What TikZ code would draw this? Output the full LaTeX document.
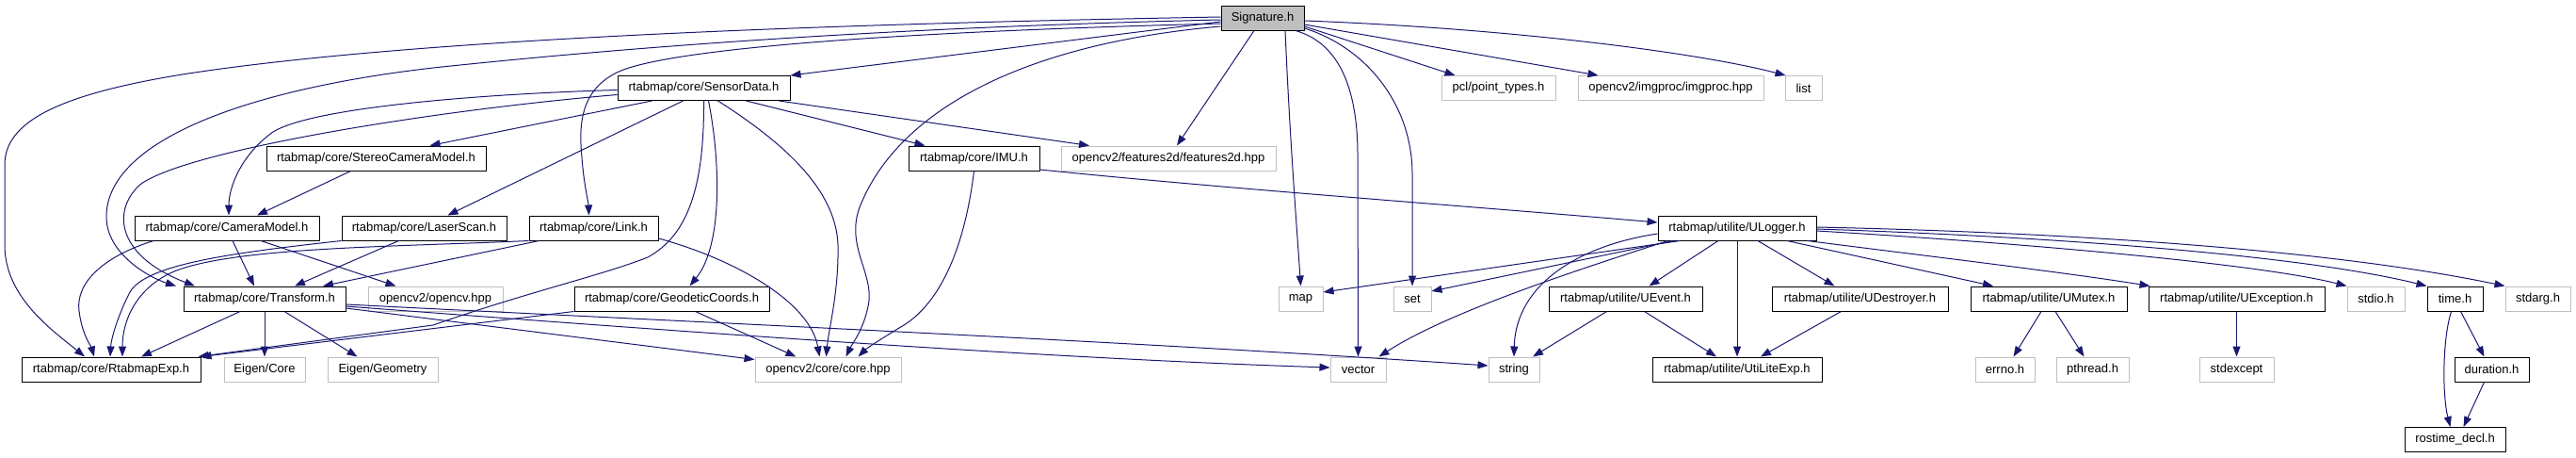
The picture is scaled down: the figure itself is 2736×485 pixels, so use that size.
\documentclass[tikz,border=0pt]{standalone}
\usepackage{fontspec}
\usetikzlibrary{arrows.meta}
\newfontfamily\hfont{Liberation Sans}
\definecolor{edgeblue}{HTML}{191970}
\definecolor{gray75}{HTML}{BFBFBF}
\tikzset{
  hdr/.style={draw=black, line width=1pt, minimum height=26pt, inner sep=0pt,
    font=\hfont\fontsize{13pt}{15pt}\selectfont, text=black},
  ext/.style={hdr, draw=gray75},
  dep/.style={draw=edgeblue, line width=1pt, -{Triangle[length=11pt,width=8pt]}},
}
\begin{document}
\begin{tikzpicture}[x=1pt,y=-1pt]
\useasboundingbox (0,0) rectangle (2736,485);
% row 0
\node[hdr,fill=gray75,minimum width=88pt] (sig) at (1341,19) {Signature.h};
% row 1
\node[hdr,minimum width=183pt] (sd) at (747.5,93.5) {rtabmap/core/SensorData.h};
\node[ext,minimum width=121pt] (pcl) at (1591.5,93.5) {pcl/point\_types.h};
\node[ext,minimum width=197pt] (imgproc) at (1774.5,93.5) {opencv2/imgproc/imgproc.hpp};
\node[ext,minimum width=39pt] (list) at (1915.5,93.5) {list};
% row 2
\node[hdr,minimum width=233pt] (stereo) at (399.5,168) {rtabmap/core/StereoCameraModel.h};
\node[hdr,minimum width=139pt] (imu) at (1034.5,168) {rtabmap/core/IMU.h};
\node[ext,minimum width=228pt] (f2d) at (1241,168) {opencv2/features2d/features2d.hpp};
% row 3
\node[hdr,minimum width=196pt] (cam) at (241,242) {rtabmap/core/CameraModel.h};
\node[hdr,minimum width=175pt] (laser) at (450.5,242) {rtabmap/core/LaserScan.h};
\node[hdr,minimum width=137pt] (link) at (630.5,242) {rtabmap/core/Link.h};
\node[hdr,minimum width=168pt] (ulog) at (1845,242) {rtabmap/utilite/ULogger.h};
% row 4
\node[hdr,minimum width=172pt] (tf) at (281,317) {rtabmap/core/Transform.h};
\node[ext,minimum width=143pt] (ocv) at (462.5,317) {opencv2/opencv.hpp};
\node[hdr,minimum width=207pt] (geo) at (713.5,317) {rtabmap/core/GeodeticCoords.h};
\node[ext,minimum width=47pt] (map) at (1381.5,317) {map};
\node[ext,minimum width=40pt] (set) at (1500,317) {set};
\node[hdr,minimum width=163pt] (uevent) at (1726.5,317) {rtabmap/utilite/UEvent.h};
\node[hdr,minimum width=187pt] (udest) at (1975.5,317) {rtabmap/utilite/UDestroyer.h};
\node[hdr,minimum width=166pt] (umutex) at (2176,317) {rtabmap/utilite/UMutex.h};
\node[hdr,minimum width=187pt] (uexc) at (2375.5,317) {rtabmap/utilite/UException.h};
\node[ext,minimum width=61pt] (stdio) at (2523.5,317) {stdio.h};
\node[hdr,minimum width=59pt] (time) at (2607.5,317) {time.h};
\node[ext,minimum width=69pt] (stdarg) at (2695.5,317) {stdarg.h};
% row 5
\node[hdr,minimum width=190pt] (rexp) at (118,392) {rtabmap/core/RtabmapExp.h};
\node[ext,minimum width=86pt] (ecore) at (281,392) {Eigen/Core};
\node[ext,minimum width=117pt] (egeo) at (406.5,392) {Eigen/Geometry};
\node[ext,minimum width=155pt] (core) at (879.5,392) {opencv2/core/core.hpp};
\node[ext,minimum width=59pt] (vector) at (1442.5,392) {vector};
\node[ext,minimum width=54pt] (string) at (1608,392) {string};
\node[hdr,minimum width=180pt] (utexp) at (1845,392) {rtabmap/utilite/UtiLiteExp.h};
\node[ext,minimum width=63pt] (errno) at (2129.5,392) {errno.h};
\node[ext,minimum width=77pt] (pthread) at (2222.5,392) {pthread.h};
\node[ext,minimum width=79pt] (stdexc) at (2375.5,392) {stdexcept};
\node[hdr,minimum width=79pt] (dur) at (2646.5,392) {duration.h};
% row 6
\node[hdr,minimum width=107pt] (ros) at (2607.5,466.5) {rostime\_decl.h};

% ---- Signature.h edges
\draw[dep] ([yshift=1pt]sig.west) .. controls (900,25) and (450,40) .. (200,78) .. controls (60,100) and (5,130) .. (5,175) -- (5,260) .. controls (5,315) and (55,350) .. ([xshift=-28pt]rexp.north);
\draw[dep] ([yshift=-2pt]sig.west) .. controls (900,30) and (620,55) .. (460,72) .. controls (260,95) and (113,150) .. (113,230) .. controls (113,270) and (160,295) .. ([xshift=-94pt]tf.north);
\draw[dep] ([yshift=-6pt]sig.west) .. controls (900,35) and (700,55) .. (655,77) .. controls (615,97) and (615,135) .. (618,167) .. controls (620,195) and (625,215) .. ([xshift=-5pt]link.north);
\draw[dep] ([yshift=-9pt]sig.west) .. controls (1100,45) and (960,110) .. (915,215) .. controls (895,260) and (930,290) .. (922,325) .. controls (917,350) and (905,365) .. ([xshift=19pt]core.north);
\draw[dep] ([yshift=-4pt]sig.west) -- (sd.north east);
\draw[dep] (sig) -- ([xshift=9pt]f2d.north);
\draw[dep] ([xshift=24pt]sig.south) .. controls (1370,150) and (1378,250) .. (map.north);
\draw[dep] ([xshift=35pt]sig.south) .. controls (1420,45) and (1442,90) .. (1442,165) -- (vector.north);
\draw[dep] ([yshift=-11pt]sig.east) .. controls (1450,50) and (1500,110) .. (1500,185) -- (set.north);
\draw[dep] ([yshift=-9pt]sig.east) -- ([xshift=-46pt]pcl.north);
\draw[dep] ([yshift=-7pt]sig.east) -- ([xshift=-77pt]imgproc.north);
\draw[dep] ([yshift=-3pt]sig.east) .. controls (1600,30) and (1800,55) .. ([xshift=1pt]list.north west);

% ---- SensorData.h edges
\draw[dep] ([xshift=-55pt]sd.south) -- ([xshift=57pt]stereo.north);
\draw[dep] ([xshift=-22pt]sd.south) -- ([xshift=25pt]laser.north);
\draw[dep] ([yshift=-2pt]sd.west) .. controls (500,100) and (330,115) .. (290,140) .. controls (255,165) and (243,200) .. ([xshift=2pt]cam.north);
\draw[dep] ([yshift=-7pt]sd.west) .. controls (450,118) and (200,160) .. (150,195) .. controls (120,220) and (120,270) .. ([xshift=-74pt]tf.north);
\draw[dep] (sd.south) .. controls (748,200) and (730,250) .. (688,273) .. controls (640,292) and (560,310) .. (460,345) -- ([xshift=-3pt]rexp.north east);
\draw[dep] ([xshift=5pt]sd.south) .. controls (765,170) and (768,260) .. ([xshift=19pt]geo.north);
\draw[dep] ([xshift=15pt]sd.south) .. controls (830,150) and (888,200) .. (890,260) .. controls (891,310) and (880,350) .. ([xshift=-2pt]core.north);
\draw[dep] ([xshift=45pt]sd.south) -- ([xshift=-52pt]imu.north);
\draw[dep] ([xshift=80pt]sd.south) -- ([xshift=-84pt]f2d.north);

% ---- StereoCameraModel / CameraModel
\draw[dep] ([xshift=-27pt]stereo.south) -- ([xshift=32pt]cam.north);
\draw[dep] ([xshift=6pt]cam.south) -- ([xshift=-11pt]tf.north);
\draw[dep] ([xshift=36pt]cam.south) -- ([xshift=-42pt]ocv.north);
\draw[dep] ([xshift=-78pt]cam.south) .. controls (110,272) and (80,300) .. (84,330) .. controls (87,355) and (97,368) .. ([xshift=-18pt]rexp.north);

% ---- LaserScan / Link
\draw[dep] ([xshift=-27pt]laser.south) -- ([xshift=32pt]tf.north);
\draw[dep] (laser.south west) .. controls (250,268) and (155,280) .. (138,310) .. controls (125,335) and (118,360) .. ([xshift=-1pt]rexp.north);
\draw[dep] ([xshift=-58pt]link.south) -- ([xshift=62pt]tf.north);
\draw[dep] (link.south west) .. controls (420,262) and (250,262) .. (185,288) .. controls (145,305) and (130,340) .. ([xshift=12pt]rexp.north);
\draw[dep] ([yshift=-11pt]link.east) .. controls (780,275) and (860,320) .. ([xshift=-9pt]core.north);

% ---- Transform
\draw[dep] ([xshift=-26pt]tf.south) -- ([xshift=32pt]rexp.north);
\draw[dep] (tf.south) -- (ecore.north);
\draw[dep] ([xshift=21pt]tf.south) -- ([xshift=-27pt]egeo.north);
\draw[dep] ([yshift=-10pt]tf.east) -- ([yshift=-3pt]core.north west);
\draw[dep] ([yshift=-8pt]tf.east) .. controls (700,350) and (1100,380) .. ([yshift=2pt]vector.west);
\draw[dep] ([yshift=-6pt]tf.east) .. controls (700,340) and (1200,362) .. ([yshift=4pt]string.west);

% ---- GeodeticCoords
\draw[dep] (geo.south west) -- (rexp.north east);
\draw[dep] ([xshift=25pt]geo.south) -- ([xshift=-34pt]core.north);

% ---- IMU
\draw[dep] (imu.south) .. controls (1025,260) and (1000,320) .. (960,345) .. controls (935,360) and (920,370) .. ([xshift=32pt]core.north);
\draw[dep] ([yshift=-12pt]imu.east) .. controls (1300,200) and (1550,218) .. ([yshift=6pt]ulog.west);

% ---- ULogger
\draw[dep] ([xshift=24pt]ulog.south west) -- ([yshift=7pt]map.east);
\draw[dep] ([xshift=17pt]ulog.south west) -- ([yshift=8pt]set.east);
\draw[dep] ([xshift=11pt]ulog.south west) .. controls (1680,285) and (1540,330) .. ([xshift=22pt]vector.north);
\draw[dep] ([yshift=-6pt]ulog.west) .. controls (1680,260) and (1610,300) .. (string.north);
\draw[dep] ([xshift=-20pt]ulog.south) -- ([xshift=25pt]uevent.north);
\draw[dep] (ulog.south) -- (utexp.north);
\draw[dep] ([xshift=22pt]ulog.south) -- ([xshift=-27pt]udest.north);
\draw[dep] ([xshift=53pt]ulog.south) -- ([xshift=-59pt]umutex.north);
\draw[dep] ([xshift=-10pt]ulog.south east) .. controls (2050,272) and (2200,290) .. ([xshift=2pt]uexc.north west);
\draw[dep] ([yshift=-3pt]ulog.east) .. controls (2150,258) and (2400,280) .. (stdio.north west);
\draw[dep] ([yshift=-1pt]ulog.east) .. controls (2200,252) and (2450,272) .. (time.north west);
\draw[dep] ([yshift=1pt]ulog.east) .. controls (2250,248) and (2500,270) .. (stdarg.north west);

% ---- utilite
\draw[dep] ([xshift=-20pt]uevent.south) -- ([xshift=20pt]string.north);
\draw[dep] ([xshift=20pt]uevent.south) -- ([xshift=-22pt]utexp.north);
\draw[dep] ([xshift=-20pt]udest.south) -- ([xshift=25pt]utexp.north);
\draw[dep] ([xshift=-8pt]umutex.south) -- ([xshift=9pt]errno.north);
\draw[dep] ([xshift=7pt]umutex.south) -- ([xshift=-9pt]pthread.north);
\draw[dep] (uexc.south) -- (stdexc.north);
\draw[dep] ([xshift=6pt]time.south) -- ([xshift=-8pt]dur.north);
\draw[dep] ([xshift=-4pt]time.south) .. controls (2594,360) and (2594,420) .. ([xshift=-5pt]ros.north);
\draw[dep] ([xshift=-8pt]dur.south) -- ([xshift=9pt]ros.north);
\end{tikzpicture}
\end{document}
